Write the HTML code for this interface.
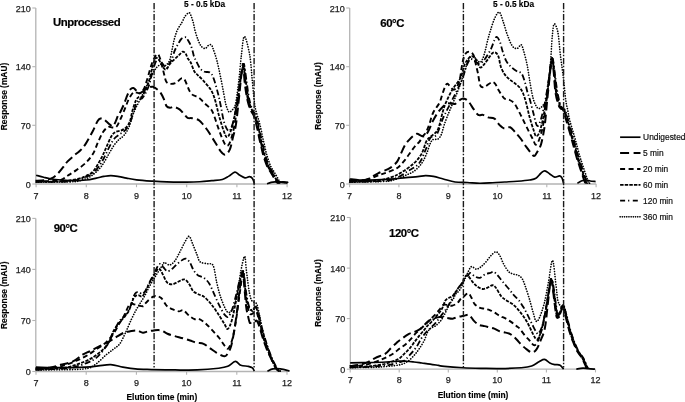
<!DOCTYPE html>
<html><head><meta charset="utf-8"><style>
html,body{margin:0;padding:0;background:#fff;width:685px;height:402px;overflow:hidden}
svg{display:block;will-change:transform}
text{font-family:"Liberation Sans", sans-serif}
.tk{font-size:9px;fill:#1e1e1e;stroke:#1e1e1e;stroke-width:0.25px}
.ttl{font-size:11.4px;font-weight:bold;fill:#000;stroke:#000;stroke-width:0.2px;letter-spacing:-0.45px}
.kda{font-size:8.3px;font-weight:bold;fill:#000;stroke:#000;stroke-width:0.15px}
.ax{font-size:8.4px;font-weight:bold;fill:#000;stroke:#000;stroke-width:0.15px}
.lg{font-size:8.4px;fill:#111;stroke:#111;stroke-width:0.2px}
</style></head><body>
<svg width="685" height="402" viewBox="0 0 685 402">
<path d="M35.8,8.0 V184.0 H287.5" fill="none" stroke="#b4b4b4" stroke-width="1.3"/>
<path d="M32.3,184.0 H35.8" stroke="#b4b4b4" stroke-width="1.1"/>
<text x="30.8" y="187.5" text-anchor="end" class="tk">0</text>
<path d="M32.3,125.3 H35.8" stroke="#b4b4b4" stroke-width="1.1"/>
<text x="30.8" y="128.8" text-anchor="end" class="tk">70</text>
<path d="M32.3,66.7 H35.8" stroke="#b4b4b4" stroke-width="1.1"/>
<text x="30.8" y="70.2" text-anchor="end" class="tk">140</text>
<path d="M32.3,8.0 H35.8" stroke="#b4b4b4" stroke-width="1.1"/>
<text x="30.8" y="11.5" text-anchor="end" class="tk">210</text>
<path d="M36.1,184.0 V187.2" stroke="#b4b4b4" stroke-width="1.1"/>
<text x="36.1" y="199.3" text-anchor="middle" class="tk">7</text>
<path d="M86.3,184.0 V187.2" stroke="#b4b4b4" stroke-width="1.1"/>
<text x="86.3" y="199.3" text-anchor="middle" class="tk">8</text>
<path d="M136.5,184.0 V187.2" stroke="#b4b4b4" stroke-width="1.1"/>
<text x="136.5" y="199.3" text-anchor="middle" class="tk">9</text>
<path d="M186.7,184.0 V187.2" stroke="#b4b4b4" stroke-width="1.1"/>
<text x="186.7" y="199.3" text-anchor="middle" class="tk">10</text>
<path d="M236.9,184.0 V187.2" stroke="#b4b4b4" stroke-width="1.1"/>
<text x="236.9" y="199.3" text-anchor="middle" class="tk">11</text>
<path d="M287.1,184.0 V187.2" stroke="#b4b4b4" stroke-width="1.1"/>
<text x="287.1" y="199.3" text-anchor="middle" class="tk">12</text>
<path d="M36.10,175.20 C37.36,175.55 41.12,176.67 43.63,177.30 C46.14,177.92 48.23,178.53 51.16,178.97 C54.09,179.42 57.44,179.70 61.20,179.98 C64.97,180.26 69.57,180.65 73.75,180.65 C77.93,180.65 82.54,180.40 86.30,179.98 C90.07,179.56 93.41,178.72 96.34,178.13 C99.27,177.55 101.44,176.88 103.87,176.46 C106.30,176.04 108.39,175.59 110.90,175.62 C113.41,175.65 116.34,176.21 118.93,176.63 C121.52,177.04 123.53,177.60 126.46,178.13 C129.39,178.66 132.32,179.32 136.50,179.81 C140.68,180.30 146.54,180.72 151.56,181.07 C156.58,181.42 160.76,181.74 166.62,181.91 C172.48,182.07 181.18,182.10 186.70,182.07 C192.22,182.04 195.57,181.97 199.75,181.74 C203.94,181.50 208.03,181.03 211.80,180.65 C215.57,180.27 219.50,180.23 222.34,179.47 C225.19,178.72 226.78,177.35 228.87,176.12 C230.96,174.89 233.14,172.28 234.89,172.10 C236.65,171.92 237.74,174.07 239.41,175.03 C241.08,176.00 243.26,177.62 244.93,177.88 C246.61,178.15 248.20,176.54 249.45,176.63 C250.71,176.71 251.63,177.23 252.46,178.39 C253.30,179.54 254.14,182.72 254.47,183.58 M267.02,183.75 C267.69,183.51 269.70,182.65 271.04,182.32 C272.37,182.00 273.71,181.88 275.05,181.82 C276.39,181.77 277.56,181.91 279.07,181.99 C280.57,182.07 282.75,182.23 284.09,182.32 C285.43,182.42 286.60,182.53 287.10,182.58" fill="none" stroke="#000" stroke-width="1.70" stroke-linejoin="round"/>
<path d="M35.50,180.75 C37.17,180.63 42.61,180.57 45.54,180.03 C48.47,179.49 50.98,178.65 53.07,177.52 C55.16,176.38 56.41,174.93 58.09,173.22 C59.76,171.50 61.52,169.21 63.11,167.24 C64.70,165.27 65.62,163.47 67.63,161.37 C69.63,159.28 73.15,156.40 75.16,154.67 C77.16,152.94 78.00,152.66 79.67,150.98 C81.35,149.31 83.02,147.91 85.20,144.61 C87.37,141.32 90.68,135.12 92.73,131.21 C94.78,127.30 96.20,123.27 97.49,121.15 C98.79,119.03 99.46,118.78 100.51,118.47 C101.55,118.16 102.72,118.75 103.77,119.31 C104.82,119.87 105.69,120.88 106.78,121.82 C107.87,122.76 109.25,124.19 110.30,124.92 C111.34,125.65 112.19,126.69 113.06,126.18 C113.93,125.66 114.69,123.58 115.52,121.82 C116.34,120.06 117.22,117.27 118.03,115.62 C118.83,113.97 119.37,113.80 120.34,111.93 C121.31,110.06 122.68,107.18 123.85,104.39 C125.02,101.60 126.28,97.69 127.36,95.17 C128.45,92.66 129.37,90.49 130.38,89.31 C131.38,88.12 132.47,87.91 133.39,88.05 C134.31,88.19 134.89,89.24 135.90,90.14 C136.90,91.05 138.16,93.36 139.41,93.50 C140.67,93.64 141.92,91.96 143.43,90.98 C144.93,90.00 146.86,88.33 148.45,87.63 C150.04,86.93 151.54,86.51 152.97,86.79 C154.39,87.07 155.73,88.33 156.98,89.31 C158.24,90.28 159.32,90.98 160.50,92.66 C161.67,94.33 163.01,97.13 164.01,99.36 C165.01,101.60 165.52,104.67 166.52,106.07 C167.52,107.46 168.78,107.60 170.03,107.74 C171.29,107.88 172.46,106.62 174.05,106.90 C175.64,107.18 177.98,108.30 179.57,109.42 C181.16,110.54 182.25,112.21 183.59,113.61 C184.93,115.00 186.18,117.03 187.60,117.80 C189.03,118.57 190.20,117.80 192.12,118.22 C194.05,118.64 197.23,119.12 199.15,120.31 C201.07,121.50 202.16,123.52 203.67,125.34 C205.17,127.16 206.26,128.34 208.19,131.21 C210.11,134.07 213.12,139.17 215.21,142.52 C217.31,145.87 219.06,149.29 220.74,151.32 C222.41,153.34 223.75,154.95 225.25,154.67 C226.76,154.39 228.52,152.44 229.77,149.64 C231.03,146.85 231.78,141.96 232.78,137.91 C233.79,133.86 234.88,130.88 235.80,125.34 C236.72,119.80 237.47,112.23 238.31,104.64 C239.14,97.06 240.15,86.02 240.82,79.84 C241.48,73.65 241.90,69.99 242.32,67.52 C242.74,65.05 242.94,62.63 243.33,65.00 C243.71,67.38 244.08,76.60 244.63,81.76 C245.18,86.93 245.97,92.20 246.64,96.01 C247.31,99.82 247.89,102.13 248.65,104.64 C249.40,107.16 250.32,109.32 251.16,111.09 C251.99,112.87 252.91,113.47 253.67,115.28 C254.42,117.10 255.01,119.47 255.67,121.99 C256.34,124.50 257.10,127.71 257.68,130.37 C258.27,133.02 258.60,135.26 259.19,137.91 C259.77,140.56 260.61,143.78 261.20,146.29 C261.78,148.80 262.12,150.76 262.70,152.99 C263.29,155.23 263.96,157.46 264.71,159.70 C265.46,161.93 266.30,164.45 267.22,166.40 C268.14,168.36 269.23,169.75 270.23,171.43 C271.24,173.11 272.32,174.85 273.24,176.46 C274.17,178.06 275.09,180.02 275.75,181.07 C276.42,182.11 276.59,182.59 277.26,182.74 C277.93,182.90 278.85,182.06 279.77,181.99 C280.69,181.92 281.78,182.23 282.78,182.32 C283.79,182.42 285.29,182.53 285.79,182.58" fill="none" stroke="#000" stroke-width="2.00" stroke-dasharray="8.5 4" stroke-linejoin="round"/>
<path d="M35.80,181.42 C38.31,181.36 46.68,181.30 50.86,181.05 C55.04,180.81 58.05,180.87 60.90,179.95 C63.74,179.03 65.42,177.13 67.93,175.54 C70.44,173.94 73.03,172.47 75.96,170.39 C78.89,168.31 82.65,165.81 85.50,163.05 C88.34,160.29 90.94,157.32 93.03,153.83 C95.12,150.34 96.37,145.73 98.05,142.10 C99.72,138.47 101.39,134.56 103.07,132.04 C104.74,129.53 106.58,127.78 108.09,127.02 C109.59,126.25 110.76,127.44 112.10,127.44 C113.44,127.44 114.95,127.92 116.12,127.02 C117.29,126.11 117.71,124.92 119.13,121.99 C120.55,119.06 123.06,113.19 124.65,109.42 C126.24,105.65 127.25,102.16 128.67,99.36 C130.09,96.57 131.85,93.78 133.19,92.66 C134.53,91.54 135.61,92.59 136.70,92.66 C137.79,92.73 138.54,93.64 139.71,93.08 C140.88,92.52 142.47,91.61 143.73,89.31 C144.98,87.00 145.82,83.72 147.24,79.25 C148.67,74.78 150.59,66.68 152.26,62.49 C153.94,58.30 155.94,54.67 157.28,54.11 C158.62,53.55 159.46,57.04 160.29,59.14 C161.13,61.23 161.63,64.03 162.30,66.68 C162.97,69.33 163.64,72.55 164.31,75.06 C164.98,77.57 165.31,80.30 166.32,81.76 C167.32,83.23 168.66,83.72 170.33,83.86 C172.01,84.00 174.52,83.51 176.36,82.60 C178.20,81.69 179.96,78.83 181.38,78.41 C182.80,77.99 183.72,78.41 184.89,80.09 C186.06,81.76 187.24,86.09 188.41,88.47 C189.58,90.84 190.16,92.80 191.92,94.33 C193.68,95.87 196.94,96.29 198.95,97.69 C200.96,99.08 202.21,101.04 203.97,102.71 C205.73,104.39 207.98,106.07 209.49,107.74 C211.00,109.42 211.50,109.28 213.00,112.77 C214.51,116.26 216.85,124.08 218.53,128.69 C220.20,133.30 221.71,137.56 223.04,140.42 C224.38,143.29 225.39,145.59 226.56,145.87 C227.73,146.15 228.82,145.24 230.07,142.10 C231.33,138.96 232.83,133.30 234.09,127.02 C235.34,120.73 236.52,112.35 237.60,104.39 C238.69,96.43 239.78,85.40 240.61,79.25 C241.45,73.10 242.12,69.89 242.62,67.52 C243.12,65.14 243.18,62.63 243.63,65.00 C244.07,67.38 244.67,76.60 245.28,81.76 C245.89,86.93 246.62,92.20 247.29,96.01 C247.96,99.82 248.55,102.13 249.30,104.64 C250.05,107.16 250.97,109.32 251.81,111.09 C252.65,112.87 253.57,113.47 254.32,115.28 C255.07,117.10 255.66,119.47 256.33,121.99 C257.00,124.50 257.75,127.71 258.34,130.37 C258.92,133.02 259.26,135.26 259.84,137.91 C260.43,140.56 261.26,143.78 261.85,146.29 C262.44,148.80 262.77,150.76 263.36,152.99 C263.94,155.23 264.61,157.46 265.36,159.70 C266.12,161.93 266.95,164.45 267.87,166.40 C268.79,168.36 269.88,169.75 270.89,171.43 C271.89,173.11 272.98,174.85 273.90,176.46 C274.82,178.06 275.74,180.02 276.41,181.07 C277.08,182.11 277.24,182.59 277.91,182.74 C278.58,182.90 279.50,182.06 280.42,181.99 C281.34,181.92 282.43,182.23 283.44,182.32 C284.44,182.42 285.95,182.53 286.45,182.58" fill="none" stroke="#000" stroke-width="1.90" stroke-dasharray="5 3.2" stroke-linejoin="round"/>
<path d="M36.10,181.74 C40.28,181.67 55.34,181.61 61.20,181.36 C67.06,181.11 67.89,180.79 71.24,180.23 C74.59,179.66 78.77,178.72 81.28,177.97 C83.79,177.21 84.29,176.84 86.30,175.70 C88.31,174.57 90.82,174.13 93.33,171.18 C95.84,168.23 99.18,162.03 101.36,158.02 C103.54,154.01 104.71,150.76 106.38,147.13 C108.05,143.50 109.89,138.75 111.40,136.23 C112.91,133.72 113.74,133.02 115.42,132.04 C117.09,131.07 119.60,131.21 121.44,130.37 C123.28,129.53 125.04,128.55 126.46,127.02 C127.88,125.48 128.97,123.90 129.97,121.15 C130.98,118.40 131.48,114.00 132.48,110.51 C133.49,107.02 134.91,102.48 136.00,100.20 C137.09,97.92 138.01,97.45 139.01,96.85 C140.01,96.25 140.93,97.80 142.02,96.60 C143.11,95.40 144.36,92.25 145.54,89.64 C146.71,87.03 147.88,84.75 149.05,80.93 C150.22,77.10 151.48,70.45 152.56,66.68 C153.65,62.91 154.49,59.42 155.58,58.30 C156.66,57.18 157.92,58.58 159.09,59.98 C160.26,61.37 161.43,65.07 162.60,66.68 C163.78,68.29 164.95,70.00 166.12,69.61 C167.29,69.22 168.21,66.08 169.63,64.33 C171.05,62.59 173.06,60.70 174.65,59.14 C176.24,57.57 177.83,56.21 179.17,54.95 C180.51,53.69 181.60,51.81 182.68,51.60 C183.77,51.39 184.86,52.57 185.70,53.69 C186.53,54.81 186.87,56.83 187.70,58.30 C188.54,59.77 189.63,60.33 190.72,62.49 C191.80,64.65 193.06,69.19 194.23,71.29 C195.40,73.38 196.32,73.59 197.74,75.06 C199.17,76.53 200.84,77.99 202.76,80.09 C204.69,82.18 207.62,85.40 209.29,87.63 C210.96,89.86 211.72,90.98 212.80,93.50 C213.89,96.01 214.73,98.80 215.82,102.71 C216.90,106.62 217.99,112.21 219.33,116.96 C220.67,121.71 222.59,127.85 223.85,131.21 C225.10,134.56 225.77,136.93 226.86,137.07 C227.95,137.21 229.12,135.40 230.37,132.04 C231.63,128.69 233.13,122.97 234.39,116.96 C235.64,110.95 236.82,102.99 237.90,96.01 C238.99,89.03 240.08,79.95 240.92,75.06 C241.75,70.17 242.42,68.36 242.92,66.68 C243.43,65.00 243.43,62.49 243.93,65.00 C244.43,67.52 245.27,76.60 245.94,81.76 C246.61,86.93 247.27,92.20 247.94,96.01 C248.61,99.82 249.20,102.13 249.95,104.64 C250.70,107.16 251.63,109.32 252.46,111.09 C253.30,112.87 254.22,113.47 254.97,115.28 C255.72,117.10 256.31,119.47 256.98,121.99 C257.65,124.50 258.40,127.71 258.99,130.37 C259.57,133.02 259.91,135.26 260.49,137.91 C261.08,140.56 261.92,143.78 262.50,146.29 C263.09,148.80 263.42,150.76 264.01,152.99 C264.59,155.23 265.26,157.46 266.02,159.70 C266.77,161.93 267.61,164.45 268.53,166.40 C269.45,168.36 270.53,169.75 271.54,171.43 C272.54,173.11 273.63,174.85 274.55,176.46 C275.47,178.06 276.39,180.02 277.06,181.07 C277.73,182.11 277.90,182.59 278.57,182.74 C279.24,182.90 280.16,182.06 281.08,181.99 C282.00,181.92 283.08,182.23 284.09,182.32 C285.09,182.42 286.60,182.53 287.10,182.58" fill="none" stroke="#000" stroke-width="1.80" stroke-dasharray="3.3 1.3" stroke-linejoin="round"/>
<path d="M36.40,181.97 C41.42,181.91 59.83,181.91 66.52,181.59 C73.21,181.27 73.21,180.89 76.56,180.05 C79.91,179.22 83.76,177.81 86.60,176.60 C89.45,175.38 91.12,175.15 93.63,172.76 C96.14,170.36 99.07,166.48 101.66,162.21 C104.25,157.94 107.10,151.04 109.19,147.13 C111.28,143.22 112.54,140.84 114.21,138.75 C115.88,136.65 117.56,135.81 119.23,134.56 C120.90,133.30 122.58,132.88 124.25,131.21 C125.92,129.53 127.85,127.30 129.27,124.50 C130.69,121.71 131.61,117.94 132.79,114.45 C133.96,110.95 135.21,106.07 136.30,103.55 C137.39,101.04 138.31,100.27 139.31,99.36 C140.32,98.45 141.24,99.22 142.32,98.11 C143.41,96.99 144.67,94.96 145.84,92.66 C147.01,90.35 148.35,87.35 149.35,84.28 C150.36,81.21 150.77,77.99 151.86,74.22 C152.95,70.45 154.62,64.03 155.88,61.65 C157.13,59.28 158.22,59.56 159.39,59.98 C160.56,60.40 161.73,62.77 162.91,64.17 C164.08,65.56 165.42,68.36 166.42,68.36 C167.42,68.36 168.05,65.60 168.93,64.17 C169.81,62.73 170.73,61.97 171.69,59.72 C172.65,57.48 173.70,53.16 174.70,50.67 C175.71,48.19 176.58,46.79 177.71,44.81 C178.84,42.82 180.10,40.03 181.48,38.77 C182.86,37.52 184.91,37.01 186.00,37.27 C187.08,37.52 187.25,39.03 188.01,40.28 C188.76,41.54 189.76,43.08 190.52,44.81 C191.27,46.54 191.94,48.70 192.52,50.67 C193.11,52.64 193.44,54.93 194.03,56.62 C194.61,58.31 195.03,58.86 196.04,60.81 C197.04,62.77 198.63,66.54 200.05,68.36 C201.48,70.17 202.90,71.01 204.57,71.71 C206.24,72.41 208.59,71.43 210.09,72.55 C211.60,73.66 212.27,74.85 213.61,78.41 C214.95,81.97 216.95,89.45 218.13,93.92 C219.30,98.38 219.63,100.48 220.64,105.23 C221.64,109.98 222.81,118.08 224.15,122.41 C225.49,126.74 227.33,130.72 228.67,131.21 C230.01,131.69 231.01,128.83 232.18,125.34 C233.35,121.85 234.61,115.84 235.70,110.26 C236.78,104.67 237.79,97.69 238.71,91.82 C239.63,85.95 240.46,79.25 241.22,75.06 C241.97,70.87 242.72,68.36 243.23,66.68 C243.73,65.00 243.66,62.49 244.23,65.00 C244.80,67.52 245.90,76.60 246.64,81.76 C247.38,86.93 247.98,92.20 248.65,96.01 C249.32,99.82 249.90,102.13 250.65,104.64 C251.41,107.16 252.33,109.32 253.16,111.09 C254.00,112.87 254.92,113.47 255.67,115.28 C256.43,117.10 257.01,119.47 257.68,121.99 C258.35,124.50 259.11,127.71 259.69,130.37 C260.28,133.02 260.61,135.26 261.20,137.91 C261.78,140.56 262.62,143.78 263.20,146.29 C263.79,148.80 264.13,150.76 264.71,152.99 C265.30,155.23 265.97,157.46 266.72,159.70 C267.47,161.93 268.31,164.45 269.23,166.40 C270.15,168.36 271.24,169.75 272.24,171.43 C273.24,173.11 274.33,174.85 275.25,176.46 C276.17,178.06 277.09,180.02 277.76,181.07 C278.43,182.11 278.60,182.59 279.27,182.74 C279.94,182.90 280.86,182.06 281.78,181.99 C282.70,181.92 283.79,182.23 284.79,182.32 C285.79,182.42 287.30,182.53 287.80,182.58" fill="none" stroke="#000" stroke-width="1.80" stroke-dasharray="6 2.5 1.3 2.5" stroke-linejoin="round"/>
<path d="M36.10,182.21 C41.96,182.15 63.71,182.15 71.24,181.82 C78.77,181.50 77.93,181.23 81.28,180.26 C84.63,179.28 87.97,178.26 91.32,175.96 C94.67,173.65 98.43,170.09 101.36,166.40 C104.29,162.71 106.80,157.32 108.89,153.83 C110.98,150.34 112.24,147.83 113.91,145.45 C115.58,143.08 117.26,141.26 118.93,139.59 C120.60,137.91 122.28,137.49 123.95,135.40 C125.62,133.30 127.30,130.93 128.97,127.02 C130.64,123.11 131.90,116.96 133.99,111.93 C136.08,106.90 139.43,101.18 141.52,96.85 C143.61,92.52 144.87,89.45 146.54,85.95 C148.21,82.46 149.89,78.97 151.56,75.90 C153.23,72.83 154.91,69.47 156.58,67.52 C158.25,65.56 160.26,64.45 161.60,64.17 C162.94,63.89 163.69,65.84 164.61,65.84 C165.53,65.84 166.24,65.19 167.12,64.17 C168.00,63.15 169.05,62.20 169.88,59.72 C170.72,57.25 171.39,52.83 172.14,49.33 C172.90,45.84 173.52,42.01 174.40,38.77 C175.28,35.53 176.16,32.62 177.41,29.89 C178.67,27.17 180.68,24.67 181.93,22.43 C183.19,20.20 183.81,18.10 184.94,16.48 C186.07,14.86 187.75,12.96 188.71,12.71 C189.67,12.46 189.96,13.36 190.72,14.98 C191.47,16.60 192.47,19.71 193.23,22.43 C193.98,25.16 194.40,28.34 195.23,31.32 C196.07,34.29 197.24,37.78 198.25,40.28 C199.25,42.78 200.09,44.95 201.26,46.32 C202.43,47.69 204.10,48.64 205.27,48.50 C206.45,48.36 207.28,46.09 208.29,45.48 C209.29,44.86 210.46,44.17 211.30,44.81 C212.13,45.45 212.39,46.75 213.31,49.33 C214.23,51.92 215.65,55.88 216.82,60.31 C217.99,64.74 219.16,70.30 220.33,75.90 C221.51,81.50 222.93,89.17 223.85,93.92 C224.77,98.66 225.02,101.39 225.86,104.39 C226.69,107.39 227.86,110.95 228.87,111.93 C229.87,112.91 230.79,111.51 231.88,110.26 C232.97,109.00 234.22,109.46 235.39,104.39 C236.57,99.32 237.90,88.08 238.91,79.84 C239.91,71.60 240.50,62.17 241.42,54.95 C242.34,47.73 243.05,36.51 244.43,36.51 C245.81,36.51 248.40,47.73 249.70,54.95 C251.00,62.17 251.37,71.55 252.21,79.84 C253.05,88.12 253.88,98.73 254.72,104.64 C255.56,110.55 256.48,112.39 257.23,115.28 C257.98,118.18 258.57,119.47 259.24,121.99 C259.91,124.50 260.66,127.71 261.25,130.37 C261.83,133.02 262.17,135.26 262.75,137.91 C263.34,140.56 264.18,143.78 264.76,146.29 C265.35,148.80 265.68,150.76 266.27,152.99 C266.85,155.23 267.52,157.46 268.28,159.70 C269.03,161.93 269.86,164.45 270.79,166.40 C271.71,168.36 272.79,169.75 273.80,171.43 C274.80,173.11 275.89,174.85 276.81,176.46 C277.73,178.06 278.65,180.02 279.32,181.07 C279.99,182.11 280.16,182.59 280.83,182.74 C281.49,182.90 282.41,182.06 283.34,181.99 C284.26,181.92 285.34,182.23 286.35,182.32 C287.35,182.42 288.86,182.53 289.36,182.58" fill="none" stroke="#000" stroke-width="1.65" stroke-dasharray="0.1 2.5" stroke-linecap="round" stroke-linejoin="round"/>
<path d="M349.7,8.0 V184.0 H596.2" fill="none" stroke="#b4b4b4" stroke-width="1.3"/>
<path d="M346.2,184.0 H349.7" stroke="#b4b4b4" stroke-width="1.1"/>
<text x="344.7" y="187.5" text-anchor="end" class="tk">0</text>
<path d="M346.2,125.3 H349.7" stroke="#b4b4b4" stroke-width="1.1"/>
<text x="344.7" y="128.8" text-anchor="end" class="tk">70</text>
<path d="M346.2,66.7 H349.7" stroke="#b4b4b4" stroke-width="1.1"/>
<text x="344.7" y="70.2" text-anchor="end" class="tk">140</text>
<path d="M346.2,8.0 H349.7" stroke="#b4b4b4" stroke-width="1.1"/>
<text x="344.7" y="11.5" text-anchor="end" class="tk">210</text>
<path d="M349.6,184.0 V187.2" stroke="#b4b4b4" stroke-width="1.1"/>
<text x="349.6" y="199.3" text-anchor="middle" class="tk">7</text>
<path d="M398.9,184.0 V187.2" stroke="#b4b4b4" stroke-width="1.1"/>
<text x="398.9" y="199.3" text-anchor="middle" class="tk">8</text>
<path d="M448.2,184.0 V187.2" stroke="#b4b4b4" stroke-width="1.1"/>
<text x="448.2" y="199.3" text-anchor="middle" class="tk">9</text>
<path d="M497.5,184.0 V187.2" stroke="#b4b4b4" stroke-width="1.1"/>
<text x="497.5" y="199.3" text-anchor="middle" class="tk">10</text>
<path d="M546.8,184.0 V187.2" stroke="#b4b4b4" stroke-width="1.1"/>
<text x="546.8" y="199.3" text-anchor="middle" class="tk">11</text>
<path d="M596.1,184.0 V187.2" stroke="#b4b4b4" stroke-width="1.1"/>
<text x="596.1" y="199.3" text-anchor="middle" class="tk">12</text>
<path d="M349.60,178.97 C351.24,179.15 356.09,179.88 359.46,180.06 C362.83,180.24 364.72,180.20 369.81,180.06 C374.91,179.92 384.03,179.63 390.03,179.22 C396.02,178.82 401.20,178.05 405.80,177.63 C410.40,177.21 414.35,177.03 417.63,176.71 C420.92,176.39 422.89,175.75 425.52,175.70 C428.15,175.66 430.45,175.91 433.41,176.46 C436.37,177.00 439.65,178.05 443.27,178.97 C446.89,179.89 451.08,181.40 455.10,181.99 C459.13,182.58 463.32,182.28 467.43,182.49 C471.54,182.70 475.56,183.20 479.75,183.25 C483.94,183.29 488.38,182.95 492.57,182.74 C496.76,182.53 500.79,182.24 504.90,181.99 C509.00,181.74 513.11,181.57 517.22,181.23 C521.33,180.90 526.42,180.47 529.55,179.98 C532.67,179.49 534.06,179.42 535.95,178.30 C537.84,177.18 539.40,174.52 540.88,173.27 C542.36,172.03 543.35,170.73 544.83,170.84 C546.31,170.96 548.11,172.90 549.76,173.94 C551.40,174.99 553.04,176.82 554.69,177.13 C556.33,177.44 558.39,175.62 559.62,175.79 C560.85,175.96 561.43,176.88 562.08,178.13 C562.74,179.39 563.32,182.46 563.56,183.33 M577.37,183.33 C578.02,182.95 579.83,181.63 581.31,181.07 C582.79,180.51 584.76,179.99 586.24,179.98 C587.72,179.96 588.62,180.72 590.18,180.98 C591.75,181.25 594.70,181.47 595.61,181.57" fill="none" stroke="#000" stroke-width="1.70" stroke-linejoin="round"/>
<path d="M349.01,180.39 C350.65,180.36 355.99,180.36 358.87,180.24 C361.74,180.12 364.13,180.18 366.26,179.67 C368.40,179.16 369.71,178.22 371.69,177.16 C373.66,176.10 375.30,174.68 378.10,173.29 C380.89,171.90 385.90,170.16 388.45,168.83 C391.00,167.50 391.90,166.56 393.38,165.31 C394.86,164.07 396.01,163.46 397.32,161.37 C398.64,159.29 399.95,155.58 401.27,152.83 C402.58,150.07 403.90,147.03 405.21,144.87 C406.53,142.70 407.84,141.33 409.15,139.84 C410.47,138.34 411.78,136.92 413.10,135.90 C414.41,134.88 415.81,133.80 417.04,133.72 C418.27,133.64 419.34,134.98 420.49,135.40 C421.64,135.82 422.71,136.79 423.94,136.23 C425.18,135.68 426.41,134.56 427.89,132.04 C429.37,129.53 431.18,124.36 432.82,121.15 C434.46,117.94 436.11,115.14 437.75,112.77 C439.39,110.40 441.04,108.44 442.68,106.90 C444.32,105.37 446.13,104.08 447.61,103.55 C449.09,103.02 450.24,103.69 451.55,103.72 C452.87,103.75 454.18,104.31 455.50,103.72 C456.81,103.13 458.13,101.07 459.44,100.20 C460.76,99.33 461.91,98.36 463.38,98.52 C464.86,98.69 466.67,99.52 468.31,101.21 C469.96,102.90 471.60,106.39 473.24,108.66 C474.89,110.94 476.53,113.83 478.17,114.87 C479.82,115.90 481.46,114.45 483.10,114.87 C484.75,115.28 486.14,116.75 488.03,117.38 C489.92,118.01 492.55,117.39 494.44,118.64 C496.33,119.88 497.73,123.19 499.37,124.84 C501.02,126.49 502.50,128.12 504.30,128.52 C506.11,128.93 508.41,126.64 510.22,127.27 C512.03,127.90 513.42,130.42 515.15,132.30 C516.87,134.17 518.68,136.01 520.57,138.50 C522.46,140.98 524.68,144.73 526.49,147.21 C528.30,149.70 530.10,151.96 531.42,153.41 C532.73,154.87 533.31,156.35 534.38,155.93 C535.44,155.51 536.68,152.98 537.83,150.90 C538.98,148.82 540.13,147.70 541.28,143.44 C542.43,139.18 543.74,132.55 544.73,125.34 C545.72,118.13 546.37,108.30 547.19,100.20 C548.02,92.10 548.92,83.72 549.66,76.74 C550.40,69.75 550.97,59.28 551.63,58.30 C552.29,57.32 552.98,65.28 553.60,70.87 C554.23,76.46 554.59,86.23 555.38,91.82 C556.17,97.41 557.43,101.60 558.34,104.39 C559.24,107.18 559.98,107.60 560.80,108.58 C561.62,109.56 562.36,108.30 563.27,110.26 C564.17,112.21 565.07,116.40 566.22,120.31 C567.37,124.22 568.94,129.39 570.17,133.72 C571.40,138.05 572.55,142.38 573.62,146.29 C574.69,150.20 575.67,154.11 576.58,157.18 C577.48,160.26 578.22,162.21 579.04,164.73 C579.86,167.24 580.77,170.03 581.51,172.27 C582.25,174.50 582.90,176.46 583.48,178.13 C584.05,179.81 584.47,181.46 584.96,182.32 C585.45,183.19 586.19,183.16 586.44,183.33" fill="none" stroke="#000" stroke-width="2.00" stroke-dasharray="8.5 4" stroke-linejoin="round"/>
<path d="M349.30,181.05 C351.77,180.93 359.00,181.35 364.09,180.32 C369.19,179.29 375.60,176.37 379.87,174.87 C384.14,173.38 386.77,172.53 389.73,171.34 C392.69,170.15 395.32,169.35 397.62,167.74 C399.92,166.14 401.56,164.04 403.53,161.71 C405.51,159.38 407.48,156.40 409.45,153.75 C411.42,151.09 413.72,147.77 415.37,145.79 C417.01,143.80 418.00,143.50 419.31,141.85 C420.62,140.20 422.10,137.56 423.25,135.90 C424.40,134.24 425.19,133.87 426.21,131.88 C427.24,129.88 428.27,127.10 429.42,123.92 C430.57,120.73 431.43,116.30 433.11,112.77 C434.80,109.24 437.96,105.88 439.52,102.71 C441.08,99.54 441.50,96.57 442.48,93.75 C443.47,90.93 444.62,87.45 445.44,85.79 C446.26,84.12 446.59,83.61 447.41,83.78 C448.23,83.94 449.30,85.79 450.37,86.79 C451.44,87.80 452.75,89.81 453.82,89.81 C454.89,89.81 455.79,88.45 456.78,86.79 C457.76,85.13 458.75,84.03 459.74,79.84 C460.72,75.65 461.71,66.04 462.69,61.65 C463.68,57.27 464.58,55.20 465.65,53.52 C466.72,51.85 467.95,51.60 469.10,51.60 C470.25,51.60 471.65,52.49 472.55,53.52 C473.46,54.56 473.95,55.88 474.53,57.80 C475.10,59.71 475.43,62.41 476.01,65.00 C476.58,67.60 477.24,69.93 477.98,73.38 C478.72,76.83 479.29,83.50 480.44,85.70 C481.59,87.91 482.99,87.21 484.88,86.62 C486.77,86.04 490.06,82.64 491.78,82.18 C493.51,81.72 494.16,82.63 495.23,83.86 C496.30,85.09 497.04,87.57 498.19,89.56 C499.34,91.54 501.07,94.24 502.13,95.76 C503.20,97.28 503.37,97.99 504.60,98.69 C505.83,99.39 507.89,99.12 509.53,99.95 C511.17,100.77 512.82,101.57 514.46,103.64 C516.10,105.70 517.75,109.24 519.39,112.35 C521.03,115.47 522.68,119.00 524.32,122.32 C525.96,125.65 527.77,129.39 529.25,132.30 C530.73,135.20 532.13,137.69 533.19,139.75 C534.26,141.82 534.67,144.70 535.66,144.70 C536.64,144.70 537.88,142.98 539.11,139.75 C540.34,136.53 541.82,131.93 543.05,125.34 C544.29,118.75 545.44,108.58 546.50,100.20 C547.57,91.82 548.56,82.04 549.46,75.06 C550.37,68.08 551.19,59.00 551.93,58.30 C552.67,57.60 553.22,65.28 553.90,70.87 C554.58,76.46 555.17,86.23 556.02,91.82 C556.87,97.41 558.07,101.60 558.98,104.39 C559.88,107.18 560.62,107.60 561.44,108.58 C562.26,109.56 563.00,108.30 563.91,110.26 C564.81,112.21 565.71,116.40 566.87,120.31 C568.02,124.22 569.58,129.39 570.81,133.72 C572.04,138.05 573.19,142.38 574.26,146.29 C575.33,150.20 576.31,154.11 577.22,157.18 C578.12,160.26 578.86,162.21 579.68,164.73 C580.50,167.24 581.41,170.03 582.15,172.27 C582.89,174.50 583.54,176.46 584.12,178.13 C584.70,179.81 585.11,181.46 585.60,182.32 C586.09,183.19 586.83,183.16 587.08,183.33" fill="none" stroke="#000" stroke-width="1.90" stroke-dasharray="5 3.2" stroke-linejoin="round"/>
<path d="M349.60,181.74 C353.71,181.61 367.51,181.66 374.25,180.98 C380.99,180.30 385.59,179.03 390.03,177.66 C394.46,176.29 396.93,175.13 400.87,172.76 C404.82,170.40 410.24,166.62 413.69,163.47 C417.14,160.31 419.44,157.58 421.58,153.83 C423.71,150.09 424.86,143.99 426.51,141.01 C428.15,138.04 429.55,137.90 431.44,135.98 C433.33,134.07 435.96,133.58 437.85,129.53 C439.74,125.48 441.38,116.28 442.78,111.68 C444.17,107.09 444.58,105.72 446.23,101.96 C447.87,98.20 450.25,93.16 452.64,89.14 C455.02,85.12 458.55,81.85 460.53,77.83 C462.50,73.80 463.24,68.12 464.47,65.00 C465.70,61.89 466.77,60.62 467.92,59.14 C469.07,57.66 470.22,56.34 471.37,56.12 C472.52,55.90 473.84,56.78 474.82,57.80 C475.81,58.82 476.38,60.62 477.29,62.24 C478.19,63.86 479.18,67.09 480.25,67.52 C481.31,67.95 482.46,66.15 483.70,64.84 C484.93,63.52 486.24,61.53 487.64,59.64 C489.04,57.76 490.76,54.70 492.08,53.52 C493.39,52.35 494.46,52.08 495.53,52.60 C496.60,53.12 497.58,54.21 498.49,56.62 C499.39,59.04 499.88,64.10 500.95,67.10 C502.02,70.10 503.42,72.56 504.90,74.64 C506.37,76.72 508.18,78.15 509.83,79.59 C511.47,81.02 513.11,81.93 514.75,83.27 C516.40,84.61 518.29,85.93 519.68,87.63 C521.08,89.33 522.07,90.98 523.14,93.50 C524.20,96.01 525.03,98.80 526.09,102.71 C527.16,106.62 528.31,112.45 529.55,116.96 C530.78,121.47 532.42,126.61 533.49,129.78 C534.56,132.95 534.97,135.56 535.95,135.98 C536.94,136.40 538.17,135.47 539.40,132.30 C540.64,129.12 542.12,123.01 543.35,116.96 C544.58,110.91 545.73,103.27 546.80,96.01 C547.87,88.75 548.85,79.67 549.76,73.38 C550.66,67.10 551.48,58.72 552.22,58.30 C552.96,57.88 553.46,65.28 554.20,70.87 C554.93,76.46 555.76,86.23 556.66,91.82 C557.56,97.41 558.71,101.60 559.62,104.39 C560.52,107.18 561.26,107.60 562.08,108.58 C562.90,109.56 563.64,108.30 564.55,110.26 C565.45,112.21 566.36,116.40 567.51,120.31 C568.66,124.22 570.22,129.39 571.45,133.72 C572.68,138.05 573.83,142.38 574.90,146.29 C575.97,150.20 576.96,154.11 577.86,157.18 C578.76,160.26 579.50,162.21 580.32,164.73 C581.15,167.24 582.05,170.03 582.79,172.27 C583.53,174.50 584.19,176.46 584.76,178.13 C585.34,179.81 585.75,181.46 586.24,182.32 C586.73,183.19 587.47,183.16 587.72,183.33" fill="none" stroke="#000" stroke-width="1.80" stroke-dasharray="3.3 1.3" stroke-linejoin="round"/>
<path d="M349.90,181.97 C354.83,181.85 372.08,181.72 379.48,181.21 C386.87,180.69 389.58,180.54 394.27,178.90 C398.95,177.26 403.47,173.95 407.58,171.37 C411.69,168.80 415.96,166.95 418.92,163.47 C421.87,159.99 423.43,154.74 425.32,150.48 C427.21,146.22 428.36,140.56 430.25,137.91 C432.14,135.26 434.53,137.84 436.66,134.56 C438.80,131.28 440.94,123.11 443.07,118.22 C445.21,113.33 447.35,109.49 449.48,105.23 C451.62,100.97 453.75,96.99 455.89,92.66 C458.03,88.33 460.57,83.58 462.30,79.25 C464.03,74.92 464.93,70.03 466.24,66.68 C467.56,63.33 468.87,60.12 470.19,59.14 C471.50,58.16 472.82,60.12 474.13,60.81 C475.45,61.51 476.93,62.96 478.08,63.33 C479.23,63.69 479.80,63.83 481.03,62.99 C482.27,62.15 483.83,60.62 485.47,58.30 C487.11,55.98 489.41,52.07 490.89,49.08 C492.37,46.09 493.36,42.39 494.34,40.37 C495.33,38.34 495.91,36.74 496.81,36.93 C497.71,37.13 498.78,39.10 499.77,41.54 C500.75,43.98 501.66,48.38 502.73,51.60 C503.79,54.81 504.94,58.43 506.18,60.81 C507.41,63.20 508.48,64.25 510.12,65.93 C511.76,67.60 514.15,69.63 516.04,70.87 C517.93,72.11 519.98,71.51 521.46,73.38 C522.94,75.26 523.92,79.00 524.91,82.10 C525.90,85.20 526.55,89.10 527.38,91.99 C528.20,94.88 528.85,95.98 529.84,99.45 C530.83,102.91 532.14,108.45 533.29,112.77 C534.44,117.09 535.67,123.66 536.74,125.34 C537.81,127.02 538.55,125.62 539.70,122.83 C540.85,120.03 542.41,114.03 543.64,108.58 C544.88,103.13 546.03,96.43 547.10,90.14 C548.16,83.86 549.15,76.18 550.05,70.87 C550.96,65.56 551.78,58.30 552.52,58.30 C553.26,58.30 553.69,65.28 554.49,70.87 C555.30,76.46 556.38,86.23 557.35,91.82 C558.32,97.41 559.40,101.60 560.31,104.39 C561.21,107.18 561.95,107.60 562.77,108.58 C563.59,109.56 564.33,108.30 565.24,110.26 C566.14,112.21 567.05,116.40 568.20,120.31 C569.35,124.22 570.91,129.39 572.14,133.72 C573.37,138.05 574.52,142.38 575.59,146.29 C576.66,150.20 577.65,154.11 578.55,157.18 C579.45,160.26 580.19,162.21 581.01,164.73 C581.84,167.24 582.74,170.03 583.48,172.27 C584.22,174.50 584.88,176.46 585.45,178.13 C586.03,179.81 586.44,181.46 586.93,182.32 C587.42,183.19 588.16,183.16 588.41,183.33" fill="none" stroke="#000" stroke-width="1.80" stroke-dasharray="6 2.5 1.3 2.5" stroke-linejoin="round"/>
<path d="M349.60,182.21 C355.35,182.08 376.72,181.82 384.11,181.43 C391.50,181.04 390.68,180.78 393.97,179.87 C397.26,178.95 400.54,177.36 403.83,175.96 C407.12,174.55 410.73,173.51 413.69,171.43 C416.65,169.35 419.44,166.40 421.58,163.47 C423.71,160.54 425.11,157.06 426.51,153.83 C427.90,150.61 428.89,146.49 429.96,144.11 C431.03,141.74 431.60,140.41 432.92,139.59 C434.23,138.76 436.45,140.00 437.85,139.17 C439.24,138.33 440.23,136.97 441.30,134.56 C442.37,132.14 442.94,128.48 444.26,124.67 C445.57,120.86 447.54,115.76 449.19,111.68 C450.83,107.60 452.47,104.21 454.12,100.20 C455.76,96.19 457.40,92.10 459.05,87.63 C460.69,83.16 462.50,77.85 463.98,73.38 C465.45,68.91 466.93,63.47 467.92,60.81 C468.91,58.16 468.91,58.10 469.89,57.46 C470.88,56.82 472.60,56.47 473.84,56.96 C475.07,57.45 476.22,59.52 477.29,60.40 C478.36,61.27 479.34,62.52 480.25,62.24 C481.15,61.96 481.89,60.60 482.71,58.72 C483.53,56.83 484.35,53.98 485.18,50.93 C486.00,47.87 486.74,43.86 487.64,40.37 C488.54,36.88 489.37,33.80 490.60,29.98 C491.83,26.15 493.56,20.34 495.03,17.41 C496.51,14.47 498.08,11.55 499.47,12.38 C500.87,13.20 502.10,18.61 503.42,22.35 C504.73,26.09 505.88,30.90 507.36,34.84 C508.84,38.77 510.65,43.70 512.29,45.98 C513.93,48.26 515.74,48.70 517.22,48.50 C518.70,48.29 520.10,44.32 521.16,44.72 C522.23,45.13 522.64,47.60 523.63,50.93 C524.62,54.25 526.09,59.89 527.08,64.67 C528.07,69.45 528.72,74.78 529.55,79.59 C530.37,84.39 531.19,89.70 532.01,93.50 C532.83,97.29 533.41,99.86 534.48,102.38 C535.54,104.89 536.94,108.16 538.42,108.58 C539.90,109.00 541.95,106.75 543.35,104.89 C544.75,103.04 545.65,103.92 546.80,97.43 C547.95,90.95 549.35,76.09 550.25,66.01 C551.15,55.93 551.57,43.94 552.22,36.93 C552.88,29.92 553.25,24.71 554.20,23.94 C555.14,23.17 556.87,27.18 557.89,32.32 C558.92,37.46 559.45,47.29 560.36,54.78 C561.26,62.27 562.41,69.67 563.32,77.24 C564.22,84.81 565.04,94.70 565.78,100.20 C566.52,105.70 567.10,106.90 567.75,110.26 C568.41,113.61 568.74,116.40 569.72,120.31 C570.71,124.22 572.44,129.39 573.67,133.72 C574.90,138.05 576.05,142.38 577.12,146.29 C578.19,150.20 579.17,154.11 580.08,157.18 C580.98,160.26 581.72,162.21 582.54,164.73 C583.36,167.24 584.27,170.03 585.01,172.27 C585.75,174.50 586.40,176.46 586.98,178.13 C587.55,179.81 587.97,181.46 588.46,182.32 C588.95,183.19 589.69,183.16 589.94,183.33" fill="none" stroke="#000" stroke-width="1.65" stroke-dasharray="0.1 2.5" stroke-linecap="round" stroke-linejoin="round"/>
<path d="M35.8,218.4 V371.5 H287.0" fill="none" stroke="#b4b4b4" stroke-width="1.3"/>
<path d="M32.3,371.5 H35.8" stroke="#b4b4b4" stroke-width="1.1"/>
<text x="30.8" y="375.0" text-anchor="end" class="tk">0</text>
<path d="M32.3,320.5 H35.8" stroke="#b4b4b4" stroke-width="1.1"/>
<text x="30.8" y="324.0" text-anchor="end" class="tk">70</text>
<path d="M32.3,269.4 H35.8" stroke="#b4b4b4" stroke-width="1.1"/>
<text x="30.8" y="272.9" text-anchor="end" class="tk">140</text>
<path d="M32.3,218.4 H35.8" stroke="#b4b4b4" stroke-width="1.1"/>
<text x="30.8" y="221.9" text-anchor="end" class="tk">210</text>
<path d="M36.0,371.5 V374.7" stroke="#b4b4b4" stroke-width="1.1"/>
<text x="36.0" y="385.5" text-anchor="middle" class="tk">7</text>
<path d="M86.2,371.5 V374.7" stroke="#b4b4b4" stroke-width="1.1"/>
<text x="86.2" y="385.5" text-anchor="middle" class="tk">8</text>
<path d="M136.4,371.5 V374.7" stroke="#b4b4b4" stroke-width="1.1"/>
<text x="136.4" y="385.5" text-anchor="middle" class="tk">9</text>
<path d="M186.6,371.5 V374.7" stroke="#b4b4b4" stroke-width="1.1"/>
<text x="186.6" y="385.5" text-anchor="middle" class="tk">10</text>
<path d="M236.8,371.5 V374.7" stroke="#b4b4b4" stroke-width="1.1"/>
<text x="236.8" y="385.5" text-anchor="middle" class="tk">11</text>
<path d="M287.0,371.5 V374.7" stroke="#b4b4b4" stroke-width="1.1"/>
<text x="287.0" y="385.5" text-anchor="middle" class="tk">12</text>
<path d="M36.00,367.13 C40.18,367.21 52.82,367.64 61.10,367.64 C69.38,367.64 79.51,367.42 85.70,367.13 C91.89,366.83 94.06,366.30 98.25,365.89 C102.43,365.47 106.70,364.44 110.80,364.65 C114.90,364.85 118.75,366.41 122.85,367.13 C126.95,367.84 130.63,368.55 135.40,368.95 C140.17,369.35 144.85,369.36 151.46,369.53 C158.07,369.70 167.44,369.90 175.05,369.97 C182.67,370.04 189.86,370.26 197.14,369.97 C204.42,369.68 213.62,368.83 218.73,368.22 C223.83,367.61 225.00,367.45 227.76,366.32 C230.53,365.19 233.12,361.62 235.29,361.44 C237.47,361.26 238.64,364.42 240.82,365.23 C242.99,366.04 246.42,365.89 248.35,366.32 C250.27,366.76 251.36,367.05 252.36,367.86 C253.37,368.66 254.04,370.59 254.37,371.14 M267.42,371.14 C268.34,370.77 270.77,369.31 272.94,368.95 C275.12,368.58 277.71,368.58 280.47,368.95 C283.23,369.31 288.00,370.77 289.51,371.14" fill="none" stroke="#000" stroke-width="1.70" stroke-linejoin="round"/>
<path d="M35.40,368.36 C37.91,368.20 46.27,368.01 50.46,367.42 C54.64,366.83 56.82,365.77 60.50,364.80 C64.18,363.84 68.86,363.30 72.55,361.62 C76.23,359.94 79.66,356.49 82.59,354.73 C85.51,352.98 87.19,352.55 90.12,351.09 C93.04,349.63 96.81,347.69 100.16,345.99 C103.50,344.28 107.27,342.53 110.20,340.88 C113.12,339.23 115.30,337.49 117.73,336.07 C120.15,334.65 122.80,333.11 124.75,332.35 C126.70,331.60 127.50,331.88 129.42,331.55 C131.35,331.22 134.07,330.20 136.30,330.38 C138.53,330.57 140.98,332.45 142.83,332.64 C144.67,332.84 145.50,331.93 147.34,331.55 C149.18,331.17 151.61,330.58 153.87,330.38 C156.13,330.19 158.64,329.83 160.90,330.38 C163.16,330.94 165.16,332.80 167.42,333.74 C169.68,334.67 171.86,335.24 174.45,336.00 C177.05,336.75 180.39,337.52 182.99,338.26 C185.58,339.00 187.75,339.70 190.01,340.44 C192.27,341.19 194.28,342.15 196.54,342.70 C198.80,343.26 201.31,342.86 203.57,343.80 C205.83,344.73 207.92,346.82 210.09,348.32 C212.27,349.81 214.36,351.46 216.62,352.76 C218.88,354.06 221.97,355.74 223.65,356.12 C225.32,356.49 225.40,356.71 226.66,355.02 C227.91,353.34 229.84,350.53 231.18,345.99 C232.52,341.44 233.60,334.44 234.69,327.76 C235.78,321.08 236.78,312.94 237.70,305.89 C238.62,298.84 239.38,291.19 240.21,285.48 C241.05,279.77 241.97,270.66 242.72,271.63 C243.48,272.60 244.15,285.36 244.73,291.31 C245.32,297.26 245.74,303.44 246.24,307.35 C246.74,311.26 247.16,312.23 247.74,314.78 C248.33,317.34 249.08,321.47 249.75,322.66 C250.42,323.85 251.01,322.05 251.76,321.93 C252.51,321.81 253.43,322.13 254.27,321.93 C255.11,321.72 255.94,319.96 256.78,320.69 C257.62,321.42 258.37,323.67 259.29,326.30 C260.21,328.94 261.38,333.59 262.30,336.51 C263.22,339.42 263.89,341.25 264.81,343.80 C265.73,346.35 266.90,349.62 267.82,351.82 C268.74,354.02 269.41,355.05 270.33,356.99 C271.25,358.94 272.43,361.62 273.35,363.48 C274.27,365.34 275.02,366.93 275.86,368.15 C276.69,369.36 277.70,370.27 278.37,370.77 C279.03,371.27 279.62,371.07 279.87,371.14" fill="none" stroke="#000" stroke-width="2.00" stroke-dasharray="8.5 4" stroke-linejoin="round"/>
<path d="M35.70,368.94 C39.05,368.67 50.76,368.03 55.78,367.34 C60.80,366.64 62.47,365.84 65.82,364.78 C69.17,363.71 72.51,362.37 75.86,360.94 C79.21,359.51 82.55,358.08 85.90,356.19 C89.25,354.31 92.59,351.94 95.94,349.63 C99.29,347.32 103.05,345.01 105.98,342.34 C108.91,339.67 111.33,336.63 113.51,333.59 C115.68,330.55 117.36,326.91 119.03,324.12 C120.70,321.32 121.79,320.12 123.55,316.82 C125.31,313.53 127.82,306.44 129.57,304.36 C131.33,302.28 132.58,304.16 134.09,304.36 C135.60,304.55 137.10,305.21 138.61,305.53 C140.11,305.84 142.04,306.57 143.13,306.25 C144.21,305.94 144.13,304.74 145.13,303.63 C146.14,302.52 147.81,300.79 149.15,299.62 C150.49,298.45 152.08,297.23 153.17,296.63 C154.25,296.04 154.34,295.83 155.68,296.05 C157.02,296.27 159.36,296.32 161.20,297.94 C163.04,299.57 164.88,303.95 166.72,305.82 C168.56,307.69 170.23,308.25 172.24,309.17 C174.25,310.09 176.93,311.18 178.77,311.36 C180.61,311.54 181.53,309.51 183.29,310.26 C185.04,311.02 187.39,314.38 189.31,315.88 C191.24,317.37 193.16,318.67 194.83,319.23 C196.51,319.79 197.51,318.49 199.35,319.23 C201.19,319.97 203.70,321.82 205.88,323.68 C208.05,325.54 210.14,327.95 212.40,330.38 C214.66,332.81 217.34,335.65 219.43,338.26 C221.52,340.87 223.45,344.38 224.95,346.06 C226.46,347.73 227.21,349.54 228.47,348.32 C229.72,347.09 231.23,343.34 232.48,338.69 C233.74,334.05 234.91,327.15 236.00,320.47 C237.08,313.79 238.09,305.28 239.01,298.60 C239.93,291.92 240.85,284.87 241.52,280.38 C242.19,275.88 242.44,270.05 243.02,271.63 C243.61,273.21 244.36,284.38 245.03,289.85 C245.70,295.32 246.29,300.54 247.04,304.43 C247.79,308.32 248.71,311.60 249.55,313.18 C250.39,314.76 251.14,314.15 252.06,313.91 C252.98,313.67 254.24,311.84 255.07,311.72 C255.91,311.60 256.33,311.24 257.08,313.18 C257.83,315.12 258.67,319.74 259.59,323.39 C260.51,327.03 261.68,331.77 262.60,335.05 C263.52,338.33 264.19,340.40 265.11,343.07 C266.03,345.74 267.20,348.78 268.12,351.09 C269.05,353.40 269.71,354.85 270.63,356.92 C271.56,358.99 272.73,361.61 273.65,363.48 C274.57,365.35 275.32,366.93 276.16,368.15 C276.99,369.36 278.00,370.27 278.67,370.77 C279.34,371.27 279.92,371.07 280.17,371.14" fill="none" stroke="#000" stroke-width="1.90" stroke-dasharray="5 3.2" stroke-linejoin="round"/>
<path d="M36.00,369.53 C40.18,369.31 55.24,368.77 61.10,368.22 C66.96,367.67 67.79,367.13 71.14,366.25 C74.49,365.38 77.83,364.28 81.18,362.97 C84.53,361.66 87.87,360.36 91.22,358.38 C94.57,356.40 98.33,353.76 101.26,351.09 C104.19,348.42 106.78,345.62 108.79,342.34 C110.80,339.06 111.55,334.69 113.31,331.40 C115.06,328.12 117.58,324.97 119.33,322.66 C121.09,320.35 122.34,319.38 123.85,317.55 C125.36,315.73 127.11,313.91 128.37,311.72 C129.62,309.53 130.54,306.62 131.38,304.43 C132.22,302.25 132.63,300.06 133.39,298.60 C134.14,297.14 134.98,296.23 135.90,295.68 C136.82,295.14 137.91,295.20 138.91,295.32 C139.91,295.44 140.92,296.84 141.92,296.41 C142.93,295.99 143.93,294.47 144.93,292.77 C145.94,291.07 146.94,288.27 147.95,286.21 C148.95,284.14 150.00,282.08 150.96,280.38 C151.92,278.67 152.80,277.58 153.72,276.00 C154.64,274.42 155.52,272.11 156.48,270.90 C157.44,269.68 158.49,268.23 159.49,268.71 C160.50,269.20 161.25,271.54 162.50,273.81 C163.76,276.09 165.43,280.58 167.02,282.34 C168.61,284.11 170.37,284.38 172.04,284.38 C173.72,284.38 175.39,283.10 177.06,282.34 C178.74,281.59 180.66,280.28 182.08,279.86 C183.50,279.45 184.34,279.04 185.60,279.86 C186.85,280.69 188.36,282.95 189.61,284.82 C190.87,286.69 191.87,289.63 193.13,291.09 C194.38,292.55 196.05,292.95 197.14,293.57 C198.23,294.19 198.48,294.26 199.65,294.81 C200.82,295.36 202.33,295.39 204.17,296.85 C206.01,298.31 208.52,300.94 210.70,303.56 C212.87,306.17 214.96,309.17 217.22,312.52 C219.48,315.88 222.49,320.93 224.25,323.68 C226.01,326.42 226.51,329.53 227.76,329.00 C229.02,328.46 230.44,324.93 231.78,320.47 C233.12,316.01 234.54,308.32 235.80,302.25 C237.05,296.17 238.31,288.64 239.31,284.02 C240.31,279.40 241.15,276.61 241.82,274.54 C242.49,272.48 242.82,269.90 243.33,271.63 C243.83,273.35 244.36,280.69 244.83,284.89 C245.30,289.10 245.59,293.36 246.14,296.85 C246.69,300.34 247.56,303.82 248.15,305.82 C248.73,307.81 248.98,307.94 249.65,308.81 C250.32,309.67 251.49,310.99 252.16,310.99 C252.83,310.99 253.17,309.53 253.67,308.81 C254.17,308.08 254.67,306.62 255.17,306.62 C255.68,306.62 256.18,307.45 256.68,308.81 C257.18,310.17 257.60,312.31 258.19,314.78 C258.77,317.26 259.61,321.19 260.19,323.68 C260.78,326.17 260.86,326.74 261.70,329.73 C262.54,332.72 264.13,338.17 265.21,341.61 C266.30,345.05 267.30,347.81 268.23,350.36 C269.15,352.91 269.81,354.73 270.74,356.92 C271.66,359.11 272.83,361.61 273.75,363.48 C274.67,365.35 275.42,366.93 276.26,368.15 C277.09,369.36 278.10,370.27 278.77,370.77 C279.44,371.27 280.02,371.07 280.27,371.14" fill="none" stroke="#000" stroke-width="1.80" stroke-dasharray="3.3 1.3" stroke-linejoin="round"/>
<path d="M36.30,369.74 C41.32,369.52 59.73,368.96 66.42,368.40 C73.11,367.84 73.11,367.29 76.46,366.40 C79.81,365.51 83.15,364.51 86.50,363.06 C89.85,361.60 93.19,360.49 96.54,357.65 C99.89,354.80 104.07,349.51 106.58,345.99 C109.09,342.46 110.10,339.55 111.60,336.51 C113.11,333.47 114.28,330.38 115.62,327.76 C116.96,325.14 118.21,322.67 119.63,320.76 C121.06,318.85 122.65,318.05 124.15,316.31 C125.66,314.58 127.41,312.58 128.67,310.34 C129.92,308.09 130.84,305.20 131.68,302.83 C132.52,300.46 132.94,297.86 133.69,296.12 C134.44,294.38 135.28,293.02 136.20,292.40 C137.12,291.78 138.21,292.15 139.21,292.40 C140.22,292.66 141.22,294.18 142.22,293.93 C143.23,293.69 144.23,292.44 145.24,290.95 C146.24,289.45 147.24,286.96 148.25,284.97 C149.25,282.98 150.30,280.85 151.26,278.99 C152.22,277.13 153.10,275.65 154.02,273.81 C154.94,271.98 155.82,269.62 156.78,267.98 C157.74,266.34 158.71,264.09 159.79,263.97 C160.88,263.85 162.05,266.05 163.31,267.25 C164.56,268.46 165.82,270.95 167.32,271.19 C168.83,271.43 170.67,269.95 172.34,268.71 C174.02,267.47 175.69,265.21 177.36,263.75 C179.04,262.30 180.96,260.80 182.38,259.96 C183.81,259.12 184.64,258.30 185.90,258.72 C187.15,259.15 188.66,260.64 189.91,262.51 C191.17,264.39 192.17,267.88 193.43,269.95 C194.68,272.02 196.36,273.87 197.44,274.91 C198.53,275.94 198.78,275.60 199.95,276.15 C201.12,276.69 202.88,276.88 204.47,278.19 C206.06,279.50 207.82,281.23 209.49,284.02 C211.16,286.81 212.84,291.31 214.51,294.95 C216.18,298.60 217.86,302.61 219.53,305.89 C221.20,309.17 223.13,312.82 224.55,314.64 C225.97,316.46 226.81,317.68 228.07,316.82 C229.32,315.97 230.74,313.18 232.08,309.54 C233.42,305.89 234.84,299.81 236.10,294.95 C237.35,290.09 238.61,284.02 239.61,280.38 C240.62,276.73 241.45,274.54 242.12,273.09 C242.79,271.63 243.13,269.66 243.63,271.63 C244.13,273.60 244.60,280.69 245.13,284.89 C245.67,289.10 246.22,293.36 246.84,296.85 C247.46,300.34 248.26,303.82 248.85,305.82 C249.43,307.81 249.68,307.94 250.35,308.81 C251.02,309.67 252.19,310.99 252.86,310.99 C253.53,310.99 253.87,309.53 254.37,308.81 C254.87,308.08 255.37,306.62 255.88,306.62 C256.38,306.62 256.88,307.45 257.38,308.81 C257.88,310.17 258.30,312.31 258.89,314.78 C259.47,317.26 260.31,321.19 260.90,323.68 C261.48,326.17 261.57,326.74 262.40,329.73 C263.24,332.72 264.83,338.17 265.92,341.61 C267.00,345.05 268.01,347.81 268.93,350.36 C269.85,352.91 270.52,354.73 271.44,356.92 C272.36,359.11 273.53,361.61 274.45,363.48 C275.37,365.35 276.12,366.93 276.96,368.15 C277.80,369.36 278.80,370.27 279.47,370.77 C280.14,371.27 280.73,371.07 280.98,371.14" fill="none" stroke="#000" stroke-width="1.80" stroke-dasharray="6 2.5 1.3 2.5" stroke-linejoin="round"/>
<path d="M36.00,369.94 C41.86,369.89 62.44,369.89 71.14,369.60 C79.84,369.32 84.02,369.21 88.21,368.24 C92.39,367.28 93.31,366.00 96.24,363.82 C99.17,361.64 102.85,357.66 105.78,355.17 C108.71,352.68 111.47,350.80 113.81,348.90 C116.15,347.01 118.08,346.11 119.83,343.80 C121.59,341.49 123.18,337.39 124.35,335.05 C125.52,332.71 125.69,332.35 126.86,329.73 C128.03,327.10 129.87,322.54 131.38,319.30 C132.89,316.07 134.39,313.08 135.90,310.34 C137.40,307.59 138.91,305.32 140.42,302.83 C141.92,300.34 143.43,298.13 144.93,295.39 C146.44,292.66 147.99,289.16 149.45,286.43 C150.92,283.69 152.38,281.23 153.72,278.99 C155.06,276.75 155.94,275.45 157.48,273.01 C159.03,270.57 161.83,266.09 163.01,264.34 C164.18,262.59 163.42,262.41 164.51,262.51 C165.60,262.62 167.86,265.20 169.53,264.99 C171.21,264.79 172.88,263.35 174.55,261.28 C176.23,259.20 177.90,255.64 179.57,252.53 C181.25,249.42 183.00,245.31 184.59,242.61 C186.18,239.92 187.69,235.93 189.11,236.34 C190.53,236.76 191.79,241.98 193.13,245.09 C194.46,248.20 195.97,252.20 197.14,255.01 C198.31,257.81 198.40,260.47 200.15,261.93 C201.91,263.39 205.51,263.13 207.68,263.75 C209.86,264.37 211.70,262.54 213.21,265.65 C214.71,268.76 215.47,277.13 216.72,282.42 C217.97,287.70 219.15,292.70 220.74,297.36 C222.33,302.03 224.75,307.93 226.26,310.41 C227.76,312.89 228.52,312.86 229.77,312.23 C231.03,311.60 232.53,309.72 233.79,306.62 C235.04,303.52 236.13,299.54 237.30,293.64 C238.47,287.75 239.60,277.48 240.82,271.26 C242.03,265.04 243.66,256.52 244.58,256.32 C245.50,256.11 245.79,265.76 246.34,270.02 C246.88,274.29 247.34,278.18 247.84,281.91 C248.35,285.64 248.76,289.40 249.35,292.40 C249.94,295.40 250.60,298.30 251.36,299.91 C252.11,301.53 253.11,301.61 253.87,302.10 C254.62,302.59 255.29,302.21 255.88,302.83 C256.46,303.45 256.80,303.82 257.38,305.82 C257.97,307.81 258.64,311.31 259.39,314.78 C260.14,318.26 260.90,322.44 261.90,326.67 C262.90,330.89 264.33,336.33 265.41,340.15 C266.50,343.98 267.51,346.96 268.43,349.63 C269.35,352.30 270.02,354.00 270.94,356.19 C271.86,358.38 273.03,360.81 273.95,362.75 C274.87,364.70 275.62,366.58 276.46,367.86 C277.29,369.13 278.30,369.86 278.97,370.41 C279.64,370.95 280.22,371.01 280.47,371.14" fill="none" stroke="#000" stroke-width="1.65" stroke-dasharray="0.1 2.5" stroke-linecap="round" stroke-linejoin="round"/>
<path d="M350.3,217.5 V369.2 H595.5" fill="none" stroke="#b4b4b4" stroke-width="1.3"/>
<path d="M346.8,369.2 H350.3" stroke="#b4b4b4" stroke-width="1.1"/>
<text x="345.3" y="372.7" text-anchor="end" class="tk">0</text>
<path d="M346.8,318.6 H350.3" stroke="#b4b4b4" stroke-width="1.1"/>
<text x="345.3" y="322.1" text-anchor="end" class="tk">70</text>
<path d="M346.8,268.1 H350.3" stroke="#b4b4b4" stroke-width="1.1"/>
<text x="345.3" y="271.6" text-anchor="end" class="tk">140</text>
<path d="M346.8,217.5 H350.3" stroke="#b4b4b4" stroke-width="1.1"/>
<text x="345.3" y="221.0" text-anchor="end" class="tk">210</text>
<path d="M350.2,369.2 V372.4" stroke="#b4b4b4" stroke-width="1.1"/>
<text x="350.2" y="383.0" text-anchor="middle" class="tk">7</text>
<path d="M399.2,369.2 V372.4" stroke="#b4b4b4" stroke-width="1.1"/>
<text x="399.2" y="383.0" text-anchor="middle" class="tk">8</text>
<path d="M448.3,369.2 V372.4" stroke="#b4b4b4" stroke-width="1.1"/>
<text x="448.3" y="383.0" text-anchor="middle" class="tk">9</text>
<path d="M497.3,369.2 V372.4" stroke="#b4b4b4" stroke-width="1.1"/>
<text x="497.3" y="383.0" text-anchor="middle" class="tk">10</text>
<path d="M546.4,369.2 V372.4" stroke="#b4b4b4" stroke-width="1.1"/>
<text x="546.4" y="383.0" text-anchor="middle" class="tk">11</text>
<path d="M595.5,369.2 V372.4" stroke="#b4b4b4" stroke-width="1.1"/>
<text x="595.5" y="383.0" text-anchor="middle" class="tk">12</text>
<path d="M350.20,362.84 C353.14,362.79 361.89,362.70 367.86,362.55 C373.83,362.41 380.77,362.22 386.01,361.98 C391.24,361.74 395.82,361.23 399.25,361.11 C402.68,360.99 404.16,361.11 406.61,361.25 C409.06,361.40 411.43,361.69 413.97,361.98 C416.50,362.26 419.12,362.64 421.81,362.99 C424.51,363.34 427.37,363.66 430.15,364.07 C432.93,364.48 436.12,365.05 438.49,365.44 C440.86,365.84 440.29,366.07 444.38,366.45 C448.46,366.84 456.64,367.44 463.01,367.76 C469.39,368.07 476.50,368.20 482.63,368.33 C488.77,368.47 493.34,368.65 499.80,368.55 C506.26,368.45 516.07,368.18 521.38,367.76 C526.70,367.33 528.74,367.01 531.68,366.02 C534.63,365.03 536.92,362.93 539.04,361.83 C541.17,360.74 542.64,359.27 544.44,359.45 C546.24,359.63 548.12,362.06 549.83,362.92 C551.55,363.77 553.02,364.20 554.74,364.58 C556.46,364.95 558.66,364.38 560.13,365.15 C561.61,365.93 563.00,368.53 563.57,369.20 M576.32,369.20 C577.38,369.02 580.65,368.22 582.70,368.12 C584.74,368.01 586.54,368.37 588.58,368.55 C590.63,368.73 593.90,369.09 594.96,369.20" fill="none" stroke="#000" stroke-width="1.70" stroke-linejoin="round"/>
<path d="M349.61,366.09 C351.25,365.88 356.48,365.47 359.42,364.85 C362.36,364.23 364.65,363.51 367.27,362.38 C369.89,361.24 372.09,359.50 375.12,358.05 C378.14,356.60 382.80,355.30 385.42,353.67 C388.03,352.03 389.01,350.00 390.81,348.25 C392.61,346.50 394.78,344.49 396.21,343.19 C397.64,341.89 397.27,341.99 399.40,340.45 C401.52,338.91 405.73,335.70 408.96,333.95 C412.19,332.19 415.50,332.06 418.77,329.90 C422.04,327.75 426.13,322.89 428.58,321.02 C431.03,319.14 431.61,319.31 433.49,318.63 C435.37,317.96 437.74,317.11 439.86,316.97 C441.99,316.83 444.11,317.49 446.24,317.77 C448.37,318.04 450.74,318.76 452.62,318.63 C454.50,318.50 455.89,317.39 457.52,316.97 C459.16,316.55 461.12,316.37 462.43,316.10 C463.73,315.84 464.22,315.56 465.37,315.38 C466.51,315.20 467.82,314.06 469.29,315.02 C470.76,315.98 472.56,319.51 474.20,321.16 C475.83,322.81 477.39,324.09 479.10,324.92 C480.82,325.75 482.78,325.74 484.50,326.14 C486.22,326.55 487.77,326.96 489.40,327.37 C491.04,327.78 492.67,327.99 494.31,328.60 C495.94,329.22 497.58,330.44 499.21,331.06 C500.85,331.67 502.48,331.88 504.12,332.29 C505.75,332.69 507.55,332.89 509.02,333.51 C510.50,334.14 511.64,335.01 512.95,336.04 C514.26,337.08 515.56,338.38 516.87,339.73 C518.18,341.07 519.16,342.52 520.80,344.13 C522.43,345.75 524.80,348.01 526.68,349.41 C528.56,350.80 530.44,352.51 532.08,352.51 C533.71,352.51 535.10,351.33 536.49,349.41 C537.88,347.48 539.03,344.47 540.42,340.95 C541.81,337.44 543.60,334.44 544.83,328.31 C546.06,322.18 546.96,311.22 547.77,304.18 C548.59,297.15 549.24,290.30 549.74,286.12 C550.23,281.95 550.31,279.48 550.72,279.12 C551.13,278.76 551.49,279.54 552.19,283.96 C552.88,288.38 554.11,300.03 554.89,305.63 C555.66,311.23 556.11,316.34 556.85,317.55 C557.58,318.75 558.40,314.78 559.30,312.85 C560.20,310.93 561.43,306.23 562.24,305.99 C563.06,305.75 563.55,309.30 564.21,311.41 C564.86,313.51 565.35,315.50 566.17,318.63 C566.98,321.76 567.97,326.34 569.11,330.19 C570.25,334.04 571.64,338.20 573.03,341.75 C574.42,345.30 575.98,348.83 577.45,351.50 C578.92,354.17 580.47,355.33 581.86,357.79 C583.25,360.24 584.97,364.40 585.79,366.24 C586.60,368.08 586.60,368.41 586.77,368.84" fill="none" stroke="#000" stroke-width="2.00" stroke-dasharray="8.5 4" stroke-linejoin="round"/>
<path d="M349.91,366.66 C351.54,366.50 356.77,366.08 359.72,365.71 C362.66,365.34 364.70,365.18 367.56,364.44 C370.42,363.70 373.94,362.38 376.88,361.27 C379.83,360.16 382.61,358.99 385.22,357.78 C387.84,356.58 390.17,355.57 392.58,354.03 C394.99,352.49 397.40,350.26 399.69,348.54 C401.98,346.82 404.43,345.31 406.31,343.70 C408.19,342.09 409.38,340.62 410.97,338.86 C412.57,337.10 414.28,334.78 415.88,333.15 C417.47,331.53 418.94,330.59 420.54,329.11 C422.13,327.63 423.81,325.88 425.44,324.27 C427.08,322.65 428.71,321.04 430.35,319.43 C431.98,317.81 433.62,316.34 435.25,314.59 C436.89,312.83 438.81,310.49 440.16,308.88 C441.51,307.27 442.28,305.58 443.35,304.91 C444.41,304.23 445.10,304.70 446.53,304.83 C447.96,304.97 450.13,305.99 451.93,305.70 C453.73,305.41 455.85,304.26 457.33,303.10 C458.80,301.94 459.78,299.79 460.76,298.77 C461.74,297.74 461.98,297.89 463.21,296.96 C464.44,296.03 466.81,293.20 468.12,293.20 C469.42,293.20 470.00,295.19 471.06,296.96 C472.12,298.73 473.10,302.05 474.49,303.82 C475.88,305.59 477.68,306.75 479.40,307.58 C481.11,308.41 483.08,308.40 484.79,308.81 C486.51,309.22 488.06,309.42 489.70,310.04 C491.33,310.65 492.97,311.54 494.60,312.49 C496.24,313.44 497.63,314.71 499.51,315.74 C501.39,316.78 503.84,317.60 505.88,318.70 C507.93,319.81 509.97,321.14 511.77,322.39 C513.57,323.64 515.37,325.18 516.68,326.22 C517.98,327.25 518.23,327.02 519.62,328.60 C521.01,330.18 523.38,333.73 525.01,335.68 C526.65,337.63 528.37,339.08 529.43,340.30 C530.49,341.53 530.49,342.24 531.39,343.05 C532.29,343.86 533.60,345.84 534.82,345.14 C536.05,344.45 537.44,342.07 538.75,338.86 C540.06,335.64 541.45,331.03 542.67,325.86 C543.90,320.68 545.04,313.82 546.11,307.80 C547.17,301.78 548.23,294.52 549.05,289.74 C549.87,284.96 550.44,280.08 551.01,279.12 C551.58,278.15 551.77,279.54 552.48,283.96 C553.20,288.38 554.51,300.03 555.30,305.63 C556.10,311.23 556.53,316.34 557.26,317.55 C558.00,318.75 558.82,314.78 559.72,312.85 C560.62,310.93 561.84,306.23 562.66,305.99 C563.48,305.75 563.97,309.30 564.62,311.41 C565.28,313.51 565.77,315.50 566.58,318.63 C567.40,321.76 568.38,326.34 569.53,330.19 C570.67,334.04 572.06,338.20 573.45,341.75 C574.84,345.30 576.39,348.83 577.87,351.50 C579.34,354.17 580.89,355.33 582.28,357.79 C583.67,360.24 585.39,364.40 586.20,366.24 C587.02,368.08 587.02,368.41 587.19,368.84" fill="none" stroke="#000" stroke-width="1.90" stroke-dasharray="5 3.2" stroke-linejoin="round"/>
<path d="M350.20,367.25 C352.65,367.14 360.83,366.87 364.91,366.60 C369.00,366.33 371.45,366.06 374.72,365.62 C377.99,365.19 381.26,364.81 384.53,364.00 C387.80,363.19 391.77,361.74 394.35,360.75 C396.92,359.75 398.27,359.25 399.99,358.02 C401.70,356.79 403.05,354.96 404.65,353.38 C406.24,351.80 407.92,350.43 409.55,348.54 C411.19,346.65 412.82,344.19 414.46,342.04 C416.09,339.88 417.73,337.63 419.36,335.61 C421.00,333.59 422.92,331.53 424.27,329.90 C425.61,328.28 426.10,327.34 427.45,325.86 C428.80,324.38 430.76,322.76 432.36,321.02 C433.95,319.27 435.42,317.40 437.02,315.38 C438.61,313.36 440.53,311.35 441.92,308.88 C443.31,306.41 444.21,302.40 445.36,300.57 C446.50,298.74 447.65,298.62 448.79,297.90 C449.93,297.18 451.08,297.24 452.22,296.24 C453.37,295.24 454.51,293.47 455.66,291.90 C456.80,290.34 458.03,288.29 459.09,286.85 C460.15,285.40 461.13,284.74 462.03,283.23 C462.93,281.73 463.59,279.13 464.49,277.82 C465.39,276.50 466.12,274.73 467.43,275.36 C468.74,275.99 470.70,279.72 472.33,281.57 C473.97,283.43 475.52,285.25 477.24,286.49 C478.96,287.73 480.92,288.81 482.63,289.01 C484.35,289.22 485.91,288.34 487.54,287.71 C489.18,287.09 491.06,285.26 492.44,285.26 C493.83,285.26 494.41,285.86 495.88,287.71 C497.35,289.57 499.56,294.31 501.27,296.38 C502.99,298.45 504.38,298.90 506.18,300.14 C507.98,301.38 510.18,302.38 512.07,303.82 C513.95,305.27 515.74,306.95 517.46,308.81 C519.18,310.66 520.73,312.68 522.37,314.95 C524.00,317.21 525.39,319.01 527.27,322.39 C529.15,325.77 532.01,332.38 533.65,335.25 C535.28,338.11 535.94,339.94 537.08,339.58 C538.23,339.22 539.29,336.81 540.51,333.08 C541.74,329.35 543.21,323.21 544.44,317.19 C545.66,311.17 546.89,302.74 547.87,296.96 C548.85,291.18 549.75,285.49 550.32,282.51 C550.90,279.54 550.90,278.88 551.30,279.12 C551.71,279.36 552.04,279.54 552.78,283.96 C553.51,288.38 554.90,300.03 555.72,305.63 C556.54,311.23 556.95,316.34 557.68,317.55 C558.42,318.75 559.23,314.78 560.13,312.85 C561.03,310.93 562.26,306.23 563.08,305.99 C563.89,305.75 564.38,309.30 565.04,311.41 C565.69,313.51 566.18,315.50 567.00,318.63 C567.82,321.76 568.80,326.34 569.94,330.19 C571.09,334.04 572.48,338.20 573.87,341.75 C575.26,345.30 576.81,348.83 578.28,351.50 C579.75,354.17 581.31,355.33 582.70,357.79 C584.09,360.24 585.80,364.40 586.62,366.24 C587.44,368.08 587.44,368.41 587.60,368.84" fill="none" stroke="#000" stroke-width="1.80" stroke-dasharray="3.3 1.3" stroke-linejoin="round"/>
<path d="M350.49,367.45 C353.76,367.34 365.21,367.07 370.11,366.79 C375.02,366.52 376.65,366.13 379.92,365.80 C383.19,365.47 386.87,365.30 389.73,364.81 C392.60,364.31 394.80,363.45 397.09,362.82 C399.38,362.19 401.34,362.34 403.47,361.03 C405.59,359.72 407.68,357.32 409.84,354.97 C412.01,352.62 414.59,349.63 416.47,346.95 C418.35,344.27 419.53,341.29 421.13,338.86 C422.72,336.43 424.40,334.25 426.03,332.36 C427.67,330.47 429.30,329.13 430.94,327.52 C432.57,325.90 434.21,324.57 435.84,322.68 C437.48,320.79 439.11,318.34 440.75,316.18 C442.38,314.01 444.34,311.56 445.65,309.67 C446.96,307.78 447.45,306.83 448.59,304.83 C449.74,302.84 451.29,299.86 452.52,297.68 C453.74,295.50 454.81,293.61 455.95,291.76 C457.10,289.90 458.32,288.00 459.39,286.56 C460.45,285.11 461.43,284.55 462.33,283.09 C463.23,281.63 463.80,279.13 464.78,277.82 C465.76,276.50 467.32,276.03 468.21,275.22 C469.11,274.40 469.03,272.68 470.18,272.90 C471.32,273.13 473.45,275.77 475.08,276.59 C476.72,277.41 478.27,278.23 479.99,277.82 C481.70,277.41 483.67,274.95 485.38,274.13 C487.10,273.31 488.90,273.31 490.29,272.90 C491.68,272.49 492.49,271.27 493.72,271.68 C494.95,272.09 496.17,273.71 497.64,275.36 C499.12,277.01 500.67,279.30 502.55,281.57 C504.43,283.85 507.05,286.75 508.93,289.01 C510.81,291.28 512.20,293.30 513.83,295.15 C515.47,297.01 517.10,298.07 518.74,300.14 C520.37,302.21 522.17,305.11 523.64,307.58 C525.11,310.05 526.09,312.06 527.56,314.95 C529.04,317.84 531.00,322.03 532.47,324.92 C533.94,327.81 535.41,330.84 536.39,332.29 C537.37,333.73 537.46,334.42 538.36,333.59 C539.26,332.75 540.64,330.76 541.79,327.30 C542.93,323.85 544.16,318.15 545.22,312.85 C546.29,307.56 547.27,300.57 548.17,295.52 C549.07,290.46 550.05,285.25 550.62,282.51 C551.19,279.78 551.19,278.88 551.60,279.12 C552.01,279.36 552.31,279.54 553.07,283.96 C553.83,288.38 555.30,300.03 556.14,305.63 C556.97,311.23 557.36,316.34 558.10,317.55 C558.83,318.75 559.65,314.78 560.55,312.85 C561.45,310.93 562.68,306.23 563.49,305.99 C564.31,305.75 564.80,309.30 565.46,311.41 C566.11,313.51 566.60,315.50 567.42,318.63 C568.24,321.76 569.22,326.34 570.36,330.19 C571.51,334.04 572.90,338.20 574.28,341.75 C575.67,345.30 577.23,348.83 578.70,351.50 C580.17,354.17 581.72,355.33 583.11,357.79 C584.50,360.24 586.22,364.40 587.04,366.24 C587.86,368.08 587.86,368.41 588.02,368.84" fill="none" stroke="#000" stroke-width="1.80" stroke-dasharray="6 2.5 1.3 2.5" stroke-linejoin="round"/>
<path d="M350.20,367.66 C354.29,367.60 369.00,367.49 374.72,367.32 C380.45,367.15 381.26,366.93 384.53,366.65 C387.80,366.37 391.48,366.03 394.35,365.64 C397.21,365.24 399.41,365.04 401.70,364.29 C403.99,363.53 405.95,362.67 408.08,361.12 C410.20,359.57 412.58,357.07 414.46,354.97 C416.34,352.87 417.73,350.96 419.36,348.54 C421.00,346.12 422.92,343.15 424.27,340.45 C425.61,337.75 426.39,334.38 427.45,332.36 C428.52,330.33 429.29,329.40 430.64,328.31 C431.99,327.23 433.91,327.07 435.55,325.86 C437.18,324.64 439.10,322.63 440.45,321.02 C441.80,319.40 442.58,318.07 443.64,316.18 C444.70,314.29 445.72,311.83 446.83,309.67 C447.93,307.52 449.12,305.17 450.26,303.24 C451.41,301.32 452.80,299.64 453.70,298.12 C454.59,296.59 454.68,295.39 455.66,294.07 C456.64,292.75 458.27,292.13 459.58,290.17 C460.89,288.21 462.20,285.10 463.51,282.30 C464.81,279.49 466.12,275.94 467.43,273.34 C468.74,270.74 469.88,267.39 471.35,266.69 C472.82,265.99 474.62,269.15 476.26,269.15 C477.89,269.15 479.53,267.93 481.16,266.69 C482.80,265.45 484.43,263.56 486.07,261.71 C487.70,259.85 489.34,257.22 490.97,255.57 C492.61,253.92 494.41,251.81 495.88,251.81 C497.35,251.81 498.49,253.50 499.80,255.57 C501.11,257.64 502.25,261.55 503.73,264.24 C505.20,266.92 507.00,270.03 508.63,271.68 C510.27,273.33 511.90,273.52 513.54,274.13 C515.17,274.75 516.97,274.54 518.44,275.36 C519.91,276.18 521.14,276.99 522.37,279.04 C523.59,281.10 524.57,284.20 525.80,287.71 C527.03,291.23 528.50,296.01 529.72,300.14 C530.95,304.27 532.09,308.99 533.16,312.49 C534.22,316.00 535.04,320.33 536.10,321.16 C537.16,321.99 538.14,320.57 539.53,317.48 C540.92,314.38 542.97,308.37 544.44,302.59 C545.91,296.82 547.01,289.82 548.36,282.80 C549.71,275.78 551.26,260.13 552.53,260.48 C553.80,260.83 555.07,278.18 555.96,284.90 C556.86,291.61 557.03,297.15 557.93,300.79 C558.83,304.42 560.46,306.03 561.36,306.71 C562.26,307.40 562.67,304.36 563.32,304.91 C563.98,305.45 564.63,307.68 565.28,309.96 C565.94,312.25 566.43,315.26 567.25,318.63 C568.06,322.00 569.04,326.34 570.19,330.19 C571.33,334.04 572.72,338.20 574.11,341.75 C575.50,345.30 577.06,348.83 578.53,351.50 C580.00,354.17 581.55,355.33 582.94,357.79 C584.33,360.24 586.05,364.40 586.87,366.24 C587.68,368.08 587.68,368.41 587.85,368.84" fill="none" stroke="#000" stroke-width="1.65" stroke-dasharray="0.1 2.5" stroke-linecap="round" stroke-linejoin="round"/>
<path d="M154.1,3 V367.5" stroke="#1a1a1a" stroke-width="1.4" stroke-dasharray="6.3 1.5 1.5 1.7"/>
<path d="M254.1,3 V367.5" stroke="#1a1a1a" stroke-width="1.4" stroke-dasharray="6.3 1.5 1.5 1.7"/>
<path d="M463.4,3 V367.5" stroke="#1a1a1a" stroke-width="1.4" stroke-dasharray="6.3 1.5 1.5 1.7"/>
<path d="M563.6,3 V367.5" stroke="#1a1a1a" stroke-width="1.4" stroke-dasharray="6.3 1.5 1.5 1.7"/>
<text x="53.0" y="26.4" class="ttl">Unprocessed</text>
<text x="380.3" y="26.6" class="ttl">60°C</text>
<text x="53.7" y="231.8" class="ttl">90°C</text>
<text x="389.0" y="236.8" class="ttl">120°C</text>
<text x="204.5" y="6.8" text-anchor="middle" class="kda">5 - 0.5 kDa</text>
<text x="513.5" y="6.7" text-anchor="middle" class="kda">5 - 0.5 kDa</text>
<text x="161.9" y="400.2" text-anchor="middle" class="ax">Elution time (min)</text>
<text x="473.0" y="398.4" text-anchor="middle" class="ax">Elution time (min)</text>
<text transform="translate(7.3,96.5) rotate(-90)" text-anchor="middle" class="ax">Response (mAU)</text>
<text transform="translate(7.3,295.3) rotate(-90)" text-anchor="middle" class="ax">Response (mAU)</text>
<text transform="translate(320.6,95.9) rotate(-90)" text-anchor="middle" class="ax">Response (mAU)</text>
<text transform="translate(321.4,292.9) rotate(-90)" text-anchor="middle" class="ax">Response (mAU)</text>
<path d="M620.1,137.2 H640.5" stroke="#000" stroke-width="1.70"/>
<text x="643.1" y="140.0" class="lg">Undigested</text>
<path d="M620.1,153.0 H640.5" stroke="#000" stroke-width="2.00" stroke-dasharray="9 4.5"/>
<text x="643.1" y="155.8" class="lg">5 min</text>
<path d="M620.1,169.0 H640.5" stroke="#000" stroke-width="1.90" stroke-dasharray="5 3.5"/>
<text x="643.1" y="171.8" class="lg">20 min</text>
<path d="M620.1,184.8 H640.5" stroke="#000" stroke-width="1.80" stroke-dasharray="3.5 1.1"/>
<text x="643.1" y="187.6" class="lg">60 min</text>
<path d="M620.1,200.7 H640.5" stroke="#000" stroke-width="1.80" stroke-dasharray="5 3 1.2 3.5"/>
<text x="643.1" y="203.5" class="lg">120 min</text>
<path d="M620.1,216.8 H640.5" stroke="#000" stroke-width="1.65" stroke-dasharray="0.1 2.1" stroke-linecap="round"/>
<text x="643.1" y="219.6" class="lg">360 min</text>
</svg>
</body></html>
